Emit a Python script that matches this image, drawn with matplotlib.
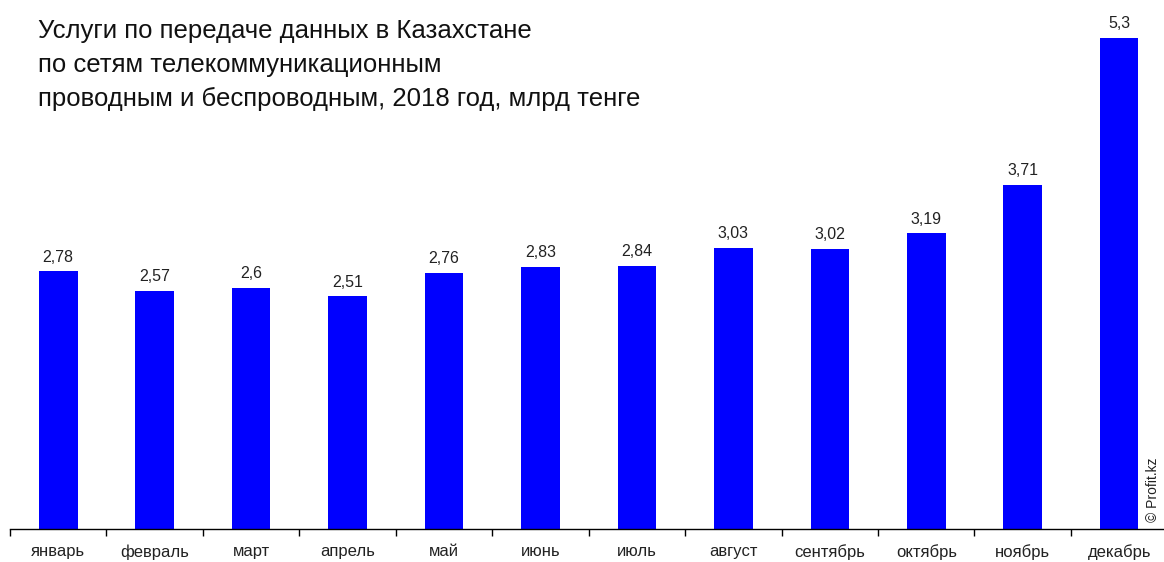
import numpy as np
import matplotlib.pyplot as plt

plt.rcParams['font.family'] = ['Liberation Sans', 'DejaVu Sans']

title = ('Услуги по передаче данных в Казахстане\n'
         'по сетям телекоммуникационным\n'
         'проводным и беспроводным, 2018 год, млрд тенге')
months = ['январь', 'февраль', 'март', 'апрель', 'май', 'июнь',
          'июль', 'август', 'сентябрь', 'октябрь', 'ноябрь', 'декабрь']
values = [2.78, 2.57, 2.6, 2.51, 2.76, 2.83, 2.84, 3.03, 3.02, 3.19, 3.71, 5.3]

W, H = 1164, 562
fig = plt.figure(figsize=(W / 100, H / 100), dpi=100, facecolor='w')
ax = fig.add_axes([10 / W, (H - 529) / H, (W - 10) / W, 529 / H])

x = np.arange(len(months))
ax.bar(x, values, width=0.40, color='#0000ff')
for xi, v in zip(x, values):
    ax.annotate(f'{v:g}'.replace('.', ','), (xi, v), xytext=(0, 5),
                textcoords='offset points', ha='center', va='bottom',
                fontsize=11.5, color='#222222')

ax.set_xlim(-0.5, 11.465)
ax.set_ylim(0, 5.71)
for s in ['left', 'right', 'top']:
    ax.spines[s].set_visible(False)
ax.spines['bottom'].set_linewidth(1.0)
ax.set_yticks([])
ax.set_xticks(np.arange(-0.5, 11.5, 1.0))
ax.set_xticklabels([])
ax.tick_params(axis='x', length=5, width=1, direction='out')
ax.set_xticks(x, minor=True)
ax.set_xticklabels(months, minor=True, fontsize=12, color='#222222')
ax.tick_params(axis='x', which='minor', length=0, pad=11)

fig.text(38 / W, 1 - 19 / H, title, ha='left', va='top', fontsize=18.5,
         linespacing=1.53, color='#111111')
fig.text(1153 / W, 1 - 490 / H, '© Profit.kz', rotation=90, ha='center',
         va='center', fontsize=10, color='#222222')

plt.savefig('out.png', dpi=100)
